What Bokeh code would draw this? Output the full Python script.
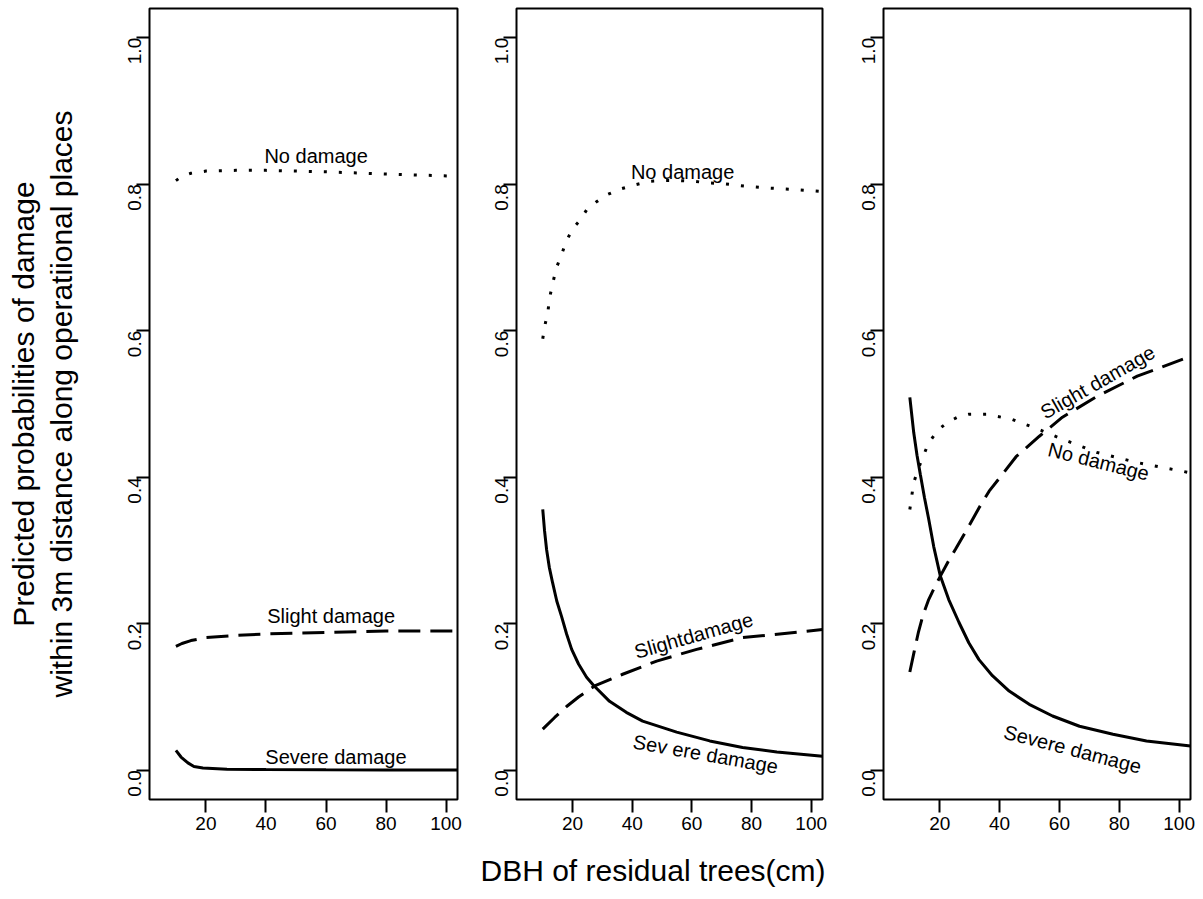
import math
from bokeh.plotting import figure
from bokeh.layouts import row
from bokeh.models import Range1d, FixedTicker, PrintfTickFormatter, ColumnDataSource, Title
from bokeh.core.properties import value
from bokeh.embed import file_html
from bokeh.resources import INLINE

FONT = "Liberation Sans"

# ---------------- data ----------------
x_ticks = [20, 40, 60, 80, 100]
y_ticks = [0.0, 0.2, 0.4, 0.6, 0.8, 1.0]

# Panel 1
p1_no_x = [10, 12, 15, 20, 30, 40, 60, 80, 103.8]
p1_no_y = [0.805, 0.811, 0.815, 0.818, 0.819, 0.819, 0.817, 0.814, 0.811]
p1_slight_x = [10, 12, 15, 20, 30, 40, 60, 80, 103.8]
p1_slight_y = [0.169, 0.173, 0.177, 0.181, 0.184, 0.186, 0.188, 0.190, 0.190]
p1_severe_x = [10, 11.7, 14, 16, 19, 27, 40, 60, 80, 103.8]
p1_severe_y = [0.027, 0.018, 0.010, 0.005, 0.003, 0.0014, 0.0008, 0.0005, 0.0003, 0.0002]

# Panel 2
p2_no_x = [10, 10.7, 11.7, 12.3, 13.3, 14.6, 16.3, 18, 20, 22.7, 24.7, 28, 31.7,
           36.4, 40.8, 45.8, 50, 56, 61, 65, 70, 79, 85, 94, 103.8]
p2_no_y = [0.589, 0.607, 0.625, 0.645, 0.664, 0.686, 0.704, 0.723, 0.739, 0.752, 0.765,
           0.776, 0.786, 0.794, 0.799, 0.804, 0.805, 0.805, 0.804, 0.802, 0.801, 0.797,
           0.795, 0.793, 0.790]
p2_slight_x = [10, 14, 18, 22, 27.4, 36.8, 48.2, 61.6, 77, 103.8]
p2_slight_y = [0.056, 0.072, 0.087, 0.100, 0.115, 0.131, 0.149, 0.165, 0.181, 0.192]
p2_severe_x = [10, 10.6, 11.3, 12.2, 13.3, 14.7, 16.3, 18, 19.7, 22, 24.7, 27, 32.4,
               38, 43.5, 54.9, 66, 77, 88.5, 103.8]
p2_severe_y = [0.356, 0.327, 0.301, 0.277, 0.256, 0.231, 0.210, 0.186, 0.165, 0.145,
               0.127, 0.116, 0.094, 0.079, 0.067, 0.052, 0.040, 0.031, 0.025, 0.019]

# Panel 3
p3_no_x = [10, 11.3, 13.6, 16.3, 19.5, 23, 26.5, 29.7, 35.5, 44.2, 53.3, 61, 72.4, 86, 103.8]
p3_no_y = [0.356, 0.393, 0.420, 0.447, 0.465, 0.476, 0.483, 0.486, 0.486, 0.479, 0.465,
           0.452, 0.434, 0.420, 0.406]
p3_slight_x = [10, 11.5, 12.9, 14.5, 16.3, 18.2, 20.2, 22.7, 25.3, 29.7, 33.1, 36.5,
               39.8, 45.5, 53.3, 61, 72.4, 86, 103.8]
p3_slight_y = [0.134, 0.163, 0.189, 0.213, 0.233, 0.249, 0.265, 0.284, 0.302, 0.333,
               0.358, 0.381, 0.398, 0.428, 0.456, 0.482, 0.510, 0.538, 0.565]
p3_severe_x = [10, 11.3, 12.4, 13.5, 14.9, 16.3, 18, 20.2, 23, 26.4, 29.7, 33.1, 37.6,
               43.2, 49.9, 57.7, 66.7, 77.9, 89.1, 103.8]
p3_severe_y = [0.509, 0.461, 0.430, 0.404, 0.372, 0.343, 0.305, 0.265, 0.233, 0.202,
               0.174, 0.151, 0.129, 0.108, 0.090, 0.074, 0.060, 0.049, 0.040, 0.033]

# curve labels: text, x, y, angle (degrees)
p1_lab_text = ["No damage", "Slight damage", "Severe damage"]
p1_lab_x = [56.7, 61.7, 63.3]
p1_lab_y = [0.839, 0.210, 0.018]
p1_lab_ang = [0, 0, 0]

p2_lab_text = ["No damage", "Slightdamage", "Sev ere damage"]
p2_lab_x = [56.9, 60.6, 64.6]
p2_lab_y = [0.817, 0.184, 0.022]
p2_lab_ang = [0, 16, -10]

p3_lab_text = ["Slight damage", "No damage", "Severe damage"]
p3_lab_x = [72.8, 73.1, 64.4]
p3_lab_y = [0.530, 0.4215, 0.0287]
p3_lab_ang = [29.6, -14, -14.6]

y_title = "Predicted probabilities of damage\nwithin 3m distance along operatiional places"
x_title = "DBH of residual trees(cm)"


def make_panel(frame_w, border_l, border_r, series, labels, show_ytitle=False, show_xtitle=False):
    p = figure(frame_width=frame_w, frame_height=791,
               min_border_left=border_l, min_border_right=border_r,
               min_border_top=8, min_border_bottom=100,
               x_range=Range1d(1.2, 103.8), y_range=Range1d(-0.04, 1.04),
               output_backend="svg", toolbar_location=None,
               background_fill_color="white", border_fill_color="white")
    p.grid.visible = False
    p.outline_line_color = "black"
    p.outline_line_width = 2
    p.outline_line_alpha = 1.0

    for ax in (p.xaxis[0], p.yaxis[0]):
        ax.axis_line_color = None
        ax.major_tick_in = 0
        ax.major_tick_out = 13
        ax.major_tick_line_color = "black"
        ax.major_tick_line_width = 2
        ax.minor_tick_line_color = None
        ax.major_label_text_font = FONT
        ax.major_label_text_font_size = "19px"
        ax.major_label_text_color = "black"
        ax.axis_label_text_font = FONT
        ax.axis_label_text_font_style = "normal"
        ax.axis_label_text_font_size = "30px"
        ax.axis_label_text_color = "black"

    p.xaxis.ticker = FixedTicker(ticks=x_ticks)
    p.xaxis.major_label_standoff = 4
    p.yaxis.ticker = FixedTicker(ticks=y_ticks)
    p.yaxis.formatter = PrintfTickFormatter(format="%.1f")
    p.yaxis.major_label_orientation = math.pi / 2
    p.yaxis.major_label_standoff = 2

    if show_ytitle:
        p.yaxis.axis_label = y_title
        p.yaxis.axis_label_standoff = 41
        p.yaxis.axis_label_text_line_height = 1.15
    if show_xtitle:
        t = Title(text=x_title, align="left", offset=-36, standoff=38,
                  text_font=FONT, text_font_size="30px", text_font_style="normal",
                  text_color="black")
        p.add_layout(t, "below")

    (nx, ny), (sx, sy), (vx, vy) = series
    p.line(nx, ny, line_color="black", line_width=3, line_dash="3 12")
    p.line(sx, sy, line_color="black", line_width=3, line_dash="22 10")
    p.line(vx, vy, line_color="black", line_width=3)

    t, lx, ly, la = labels
    src = ColumnDataSource(dict(x=lx, y=ly, text=t, angle=[math.radians(a) for a in la]))
    p.text(x="x", y="y", text="text", angle="angle", source=src,
           text_font=value(FONT), text_font_size="20px", text_color="black",
           text_align="center", text_baseline="middle")
    return p


p1 = make_panel(308, 149, 17,
                [(p1_no_x, p1_no_y), (p1_slight_x, p1_slight_y), (p1_severe_x, p1_severe_y)],
                (p1_lab_text, p1_lab_x, p1_lab_y, p1_lab_ang), show_ytitle=True)
p2 = make_panel(306, 42, 18,
                [(p2_no_x, p2_no_y), (p2_slight_x, p2_slight_y), (p2_severe_x, p2_severe_y)],
                (p2_lab_text, p2_lab_x, p2_lab_y, p2_lab_ang), show_xtitle=True)
p3 = make_panel(307, 43, 10,
                [(p3_no_x, p3_no_y), (p3_slight_x, p3_slight_y), (p3_severe_x, p3_severe_y)],
                (p3_lab_text, p3_lab_x, p3_lab_y, p3_lab_ang))

layout = row(p1, p2, p3)
open("out.html", "w").write(file_html(layout, INLINE))
